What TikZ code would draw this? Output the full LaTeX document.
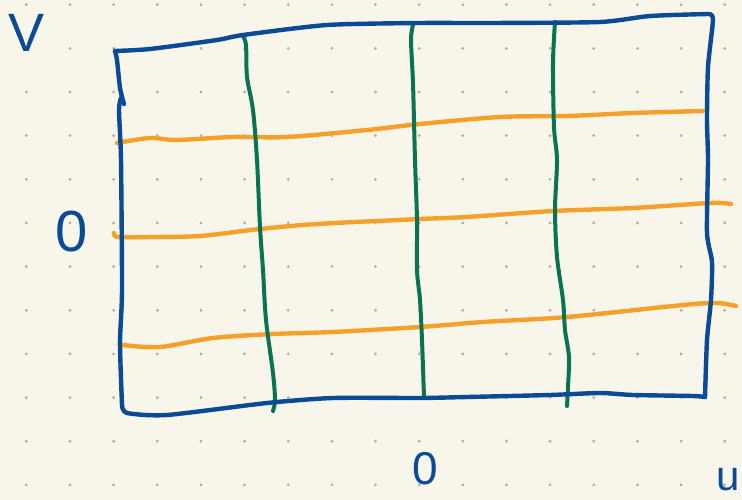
\documentclass[tikz,border=0pt]{standalone}
\usepackage{fontspec}
\setmainfont{Liberation Sans}
\definecolor{bgc}{HTML}{F8F6EB}
\definecolor{dotc}{HTML}{ADA9A1}
\definecolor{bluec}{HTML}{0B4A94}
\definecolor{greenc}{HTML}{0A7352}
\definecolor{orangec}{HTML}{F5A02A}
\tikzset{
  frame/.style={draw=bluec, line width=4.4pt, line cap=round, line join=round},
  vline/.style={draw=greenc, line width=4pt, line cap=round, line join=round},
  hline/.style={draw=orangec, line width=4.4pt, line cap=round, line join=round},
  hand/.style={text=bluec, inner sep=0pt, font=\fontsize{54}{54}\selectfont}
}
\begin{document}
\begin{tikzpicture}[x=1pt,y=-1pt]
\path[use as bounding box, fill=bgc] (0,0) rectangle (742,500);
\clip (0,0) rectangle (742,500);
% dot grid
\foreach \i in {0,...,16}{
  \foreach \j in {0,...,11}{
    \fill[dotc] ({26.3+43.65*\i},{4.7+43.65*\j}) circle (1.5pt);
  }
}
% orange horizontal lines
\draw[hline] plot[smooth, tension=0.5] coordinates {(117,143) (150,138) (177,140) (233,137) (287,137) (367,130) (420,124) (500,117) (567,116) (633,113) (703,111)};
\draw[hline] plot[smooth, tension=0.5] coordinates {(114,233) (118,237) (150,237) (200,236) (260,229) (317,224) (420,219) (467,217) (553,211) (633,208) (710,203) (731,204)};
\draw[hline] plot[smooth, tension=0.5] coordinates {(120,343) (123,345) (160,347) (213,338) (273,334) (333,332) (420,327) (483,322) (567,317) (683,305) (717,303) (736,306)};
% green vertical lines
\draw[vline] plot[smooth, tension=0.5] coordinates {(243,36) (246,45) (247,77) (253,110) (257,160) (260,227) (263,270) (266,320) (273,373) (275,400) (273,411)};
\draw[vline] plot[smooth, tension=0.5] coordinates {(413,25) (411,40) (413,83) (415,160) (417,220) (417,270) (420,300) (422,340) (424,397)};
\draw[vline] plot[smooth, tension=0.5] coordinates {(555,22) (553,63) (554,127) (557,160) (555,210) (557,257) (563,300) (565,330) (569,357) (568,387) (567,406)};
% blue frame
\draw[frame] plot[smooth, tension=0.4] coordinates {(124,104) (120,88) (117,60) (115,51)};
\draw[frame] plot[smooth, tension=0.4] coordinates {(115,51) (150,49) (217,40) (243,35) (327,25) (420,23) (490,23) (600,22) (650,16) (708,14)};
\draw[frame] plot[smooth, tension=0.4] coordinates {(708,14) (713,19) (708,67) (707,120) (708,160) (707,233) (712,262) (711,300) (707,340) (705,397)};
\draw[frame] plot[smooth, tension=0.4] coordinates {(705,397) (693,396) (633,395) (600,393) (550,395) (467,397) (420,398) (333,398) (267,403) (167,415) (127,413) (122,405)};
\draw[frame] plot[smooth, tension=0.4] coordinates {(122,405) (120,343) (122,290) (121,160) (119,110) (121,98)};
% labels
\node[hand] (lv) at (27,33) {V};
\node[hand, font=\fontsize{58}{58}\selectfont] (lo) at (72,232) {0};
\node[hand, font=\fontsize{46}{46}\selectfont] (bo) at (425,469) {0};
\node[hand, anchor=north east, font=\fontsize{42}{42}\selectfont] (lu) at (740,468) {u};
\end{tikzpicture}
\end{document}
